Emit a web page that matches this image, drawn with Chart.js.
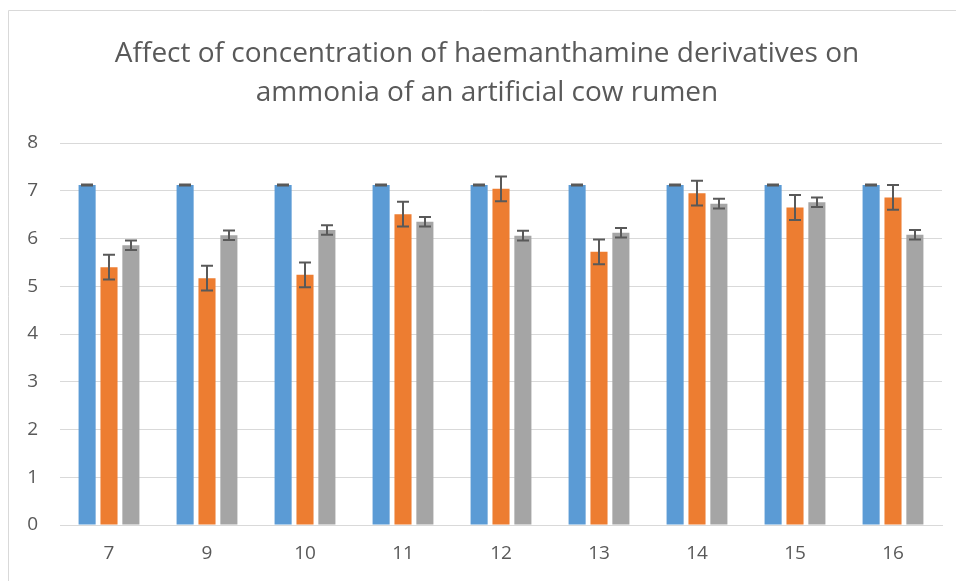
<!DOCTYPE html>
<html>
<head>
<meta charset="utf-8">
<script src="https://cdn.jsdelivr.net/npm/chart.js@4"></script>
<style>
  html, body { margin: 0; padding: 0; background: #fff; }
  #wrap { position: relative; width: 956px; height: 581px; }
</style>
</head>
<body>
<div id="wrap"><canvas id="chart" width="956" height="581"></canvas></div>
<script>
// Chart data
const categories = ['7', '9', '10', '11', '12', '13', '14', '15', '16'];
const blueValues = [7.12, 7.12, 7.12, 7.12, 7.12, 7.12, 7.12, 7.12, 7.12];
const blueErrors = [0.01, 0.01, 0.01, 0.01, 0.01, 0.01, 0.01, 0.01, 0.01];
const orangeValues = [5.40, 5.17, 5.24, 6.51, 7.04, 5.72, 6.95, 6.65, 6.86];
const orangeErrors = [0.26, 0.26, 0.26, 0.26, 0.26, 0.26, 0.26, 0.26, 0.26];
const grayValues = [5.86, 6.07, 6.18, 6.35, 6.06, 6.12, 6.73, 6.76, 6.08];
const grayErrors = [0.10, 0.10, 0.10, 0.10, 0.10, 0.10, 0.10, 0.10, 0.10];
const yTicks = [0, 1, 2, 3, 4, 5, 6, 7, 8];
const titleLines = ['Affect of concentration of haemanthamine derivatives on', 'ammonia of an artificial cow rumen'];

const textColor = '#595959';
const fontFamily = '"Open Sans", sans-serif';

// Draws the chart frame (top and left border visible in the crop) and the title
const framePlugin = {
    id: 'frame',
    beforeDraw(chart) {
        const c = chart.ctx;
        c.save();
        c.strokeStyle = '#d9d9d9';
        c.lineWidth = 1;
        c.beginPath();
        c.moveTo(8.5, 600);
        c.lineTo(8.5, 10.5);
        c.lineTo(960, 10.5);
        c.stroke();

        // title is centred on the frame, not on the canvas
        c.fillStyle = textColor;
        c.font = '28px ' + fontFamily;
        c.textAlign = 'center';
        c.textBaseline = 'middle';
        titleLines.forEach((line, i) => c.fillText(line, 487, 54 + i * 39));
        c.restore();
    }
};

// Draws error bars from the error arrays
const errorBarPlugin = {
    id: 'errorBars',
    afterDatasetsDraw(chart) {
        const c = chart.ctx;
        const yScale = chart.scales.y;
        c.save();
        c.strokeStyle = '#595959';
        c.lineWidth = 2;
        chart.data.datasets.forEach((ds, di) => {
            const meta = chart.getDatasetMeta(di);
            meta.data.forEach((bar, i) => {
                const v = ds.data[i];
                const e = ds.errors[i];
                const top = yScale.getPixelForValue(v + e);
                const bottom = yScale.getPixelForValue(v - e);
                const x = Math.round(bar.x);
                c.beginPath();
                c.moveTo(x, top);
                c.lineTo(x, bottom);
                c.moveTo(x - 6, top);
                c.lineTo(x + 6, top);
                c.moveTo(x - 6, bottom);
                c.lineTo(x + 6, bottom);
                c.stroke();
            });
        });
        c.restore();
    }
};

const ctx = document.getElementById('chart').getContext('2d');
const chart = new Chart(ctx, {
    type: 'bar',
    data: {
        labels: categories,
        datasets: [
            { label: 'Series1', data: blueValues, errors: blueErrors, backgroundColor: '#5b9bd5' },
            { label: 'Series2', data: orangeValues, errors: orangeErrors, backgroundColor: '#ed7d31' },
            { label: 'Series3', data: grayValues, errors: grayErrors, backgroundColor: '#a5a5a5' }
        ]
    },
    options: {
        responsive: false,
        animation: false,
        datasets: {
            bar: { categoryPercentage: 0.67, barPercentage: 0.78 }
        },
        layout: { padding: { left: 8, right: 14, top: 143, bottom: 0 } },
        plugins: {
            legend: { display: false },
            tooltip: { enabled: false },
            title: { display: false }
        },
        scales: {
            x: {
                afterFit(scale) { scale.height = 56; },
                grid: { display: false, drawTicks: false },
                border: { display: true, color: '#d9d9d9', width: 1 },
                ticks: { color: textColor, font: { family: fontFamily, size: 19 }, padding: 17 }
            },
            y: {
                min: 0,
                max: 8,
                afterFit(scale) { scale.width = 52; },
                afterBuildTicks(scale) { scale.ticks = yTicks.map(v => ({ value: v })); },
                grid: { color: '#d9d9d9', drawTicks: false },
                border: { display: false },
                ticks: { color: textColor, font: { family: fontFamily, size: 19 }, padding: 22 }
            }
        }
    },
    plugins: [framePlugin, errorBarPlugin]
});
</script>
</body>
</html>
